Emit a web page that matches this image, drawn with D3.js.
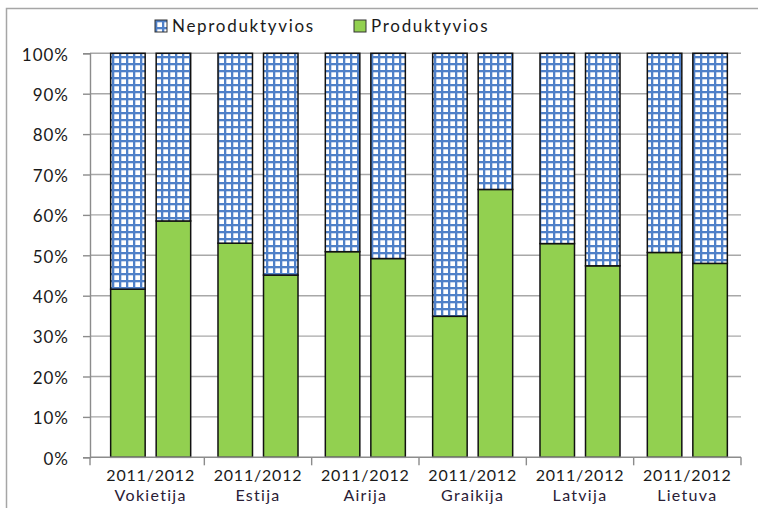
<!DOCTYPE html>
<html>
<head>
<meta charset="utf-8">
<script src="https://cdn.jsdelivr.net/npm/d3@7"></script>
<style>
  html, body { margin: 0; padding: 0; background: #fff; }
  svg { display: block; font-family: Lato, "Open Sans", sans-serif; }
</style>
</head>
<body>
<svg id="chart" width="758" height="508"></svg>
<script>
// Farm shares by country, two periods per country (percent)
const countries = ["Vokietija", "Estija", "Airija", "Graikija", "Latvija", "Lietuva"];
const periods = ["2011", "2012"];
const periodLabel = "2011/2012";
const seriesNames = ["Produktyvios", "Neproduktyvios"];

const produktyvios2011   = [41.6, 53.0, 50.9, 34.9, 52.9, 50.7];
const produktyvios2012   = [58.5, 45.1, 49.2, 66.3, 47.4, 48.0];
const neproduktyvios2011 = [58.4, 47.0, 49.1, 65.1, 47.1, 49.3];
const neproduktyvios2012 = [41.5, 54.9, 50.8, 33.7, 52.6, 52.0];

const yTickValues = [0, 10, 20, 30, 40, 50, 60, 70, 80, 90, 100];
const yTickFormat = d => d + "%";

// one row per bar
const rows = [];
countries.forEach((c, i) => {
  rows.push({ country: c, period: periods[0], Produktyvios: produktyvios2011[i], Neproduktyvios: neproduktyvios2011[i] });
  rows.push({ country: c, period: periods[1], Produktyvios: produktyvios2012[i], Neproduktyvios: neproduktyvios2012[i] });
});

const svg = d3.select("#chart");
const plot = { left: 90, right: 741, top: 53.3, bottom: 457.3, groupStart: 97 };

const green = "#92d050";
const blue = "#4f80c8";

// small-grid hatch for the non-productive share
const defs = svg.append("defs");
const pat = defs.append("pattern")
  .attr("id", "grid")
  .attr("patternUnits", "userSpaceOnUse")
  .attr("width", 7).attr("height", 7);
pat.append("rect").attr("width", 7).attr("height", 7).attr("fill", "#fff");
pat.append("rect").attr("x", 0).attr("y", 0).attr("width", 2.3).attr("height", 7).attr("fill", blue);
pat.append("rect").attr("x", 0).attr("y", 0).attr("width", 7).attr("height", 2.3).attr("fill", blue);

// chart frame
svg.append("rect")
  .attr("x", 6.5).attr("y", 8.5)
  .attr("width", 800).attr("height", 600)
  .attr("fill", "none").attr("stroke", "#a6a6a6").attr("stroke-width", 1.5);

const y = d3.scaleLinear().domain([0, 100]).range([plot.bottom, plot.top]);
const x0 = d3.scaleBand().domain(countries).range([plot.groupStart, plot.right]).padding(0);
const x1 = d3.scaleBand().domain(periods).range([0, x0.bandwidth()])
  .paddingInner(0.242).paddingOuter(0.3);

// horizontal gridlines
svg.append("g")
  .selectAll("line")
  .data(yTickValues.filter(d => d > 0))
  .join("line")
  .attr("x1", plot.left).attr("x2", plot.right)
  .attr("y1", d => y(d)).attr("y2", d => y(d))
  .attr("stroke", "#a8a8a8").attr("stroke-width", 1.4);

// y axis
const yAxis = svg.append("g")
  .attr("transform", `translate(${plot.left},0)`)
  .call(d3.axisLeft(y).tickValues(yTickValues).tickFormat(yTickFormat).tickSize(7).tickPadding(14));
yAxis.select(".domain").attr("stroke", "#8c8c8c").attr("stroke-width", 1.4);
yAxis.selectAll(".tick line").attr("stroke", "#8c8c8c").attr("stroke-width", 1.4);
yAxis.selectAll(".tick text")
  .attr("font-family", "Lato, sans-serif")
  .attr("font-size", 17)
  .attr("letter-spacing", "1px")
  .attr("fill", "#1a1a1a")
  .attr("dy", "0.4em");

// stacked bars (100%)
const stack = d3.stack().keys(seriesNames).offset(d3.stackOffsetExpand);
const layers = stack(rows);
const fills = { Produktyvios: green, Neproduktyvios: "url(#grid)" };

svg.append("g")
  .selectAll("g")
  .data(layers)
  .join("g")
  .attr("fill", d => fills[d.key])
  .selectAll("rect")
  .data(d => d)
  .join("rect")
  .attr("x", d => x0(d.data.country) + x1(d.data.period))
  .attr("width", x1.bandwidth())
  .attr("y", d => y(d[1] * 100))
  .attr("height", d => y(d[0] * 100) - y(d[1] * 100))
  .attr("stroke", "#111")
  .attr("stroke-width", 1.5);

// x axis line and group separators
const xAxis = svg.append("g");
xAxis.append("line")
  .attr("x1", plot.left).attr("x2", plot.right)
  .attr("y1", plot.bottom).attr("y2", plot.bottom)
  .attr("stroke", "#8c8c8c").attr("stroke-width", 1.4);
const sepX = [plot.left].concat(countries.map(c => x0(c) + x0.step()));
xAxis.selectAll("line.sep")
  .data(sepX)
  .join("line")
  .attr("class", "sep")
  .attr("x1", d => d).attr("x2", d => d)
  .attr("y1", plot.bottom).attr("y2", plot.bottom + 8)
  .attr("stroke", "#8c8c8c").attr("stroke-width", 1.4);

// category labels: period line and country line
const labels = xAxis.selectAll("g.lab")
  .data(countries)
  .join("g")
  .attr("class", "lab")
  .attr("transform", c => `translate(${x0(c) + x0.bandwidth() / 2},0)`);
labels.append("text")
  .attr("y", 480.5)
  .attr("text-anchor", "middle")
  .attr("font-size", 16)
  .attr("letter-spacing", "0.8px")
  .attr("fill", "#1a1a1a")
  .text(periodLabel);
labels.append("text")
  .attr("y", 500.5)
  .attr("text-anchor", "middle")
  .attr("font-size", 16)
  .attr("letter-spacing", "1.3px")
  .attr("fill", "#2a2036")
  .text(c => c);

// legend
const legendItems = [
  { name: "Neproduktyvios", fill: "url(#grid)", x: 155 },
  { name: "Produktyvios", fill: green, x: 354 }
];
const leg = svg.append("g")
  .selectAll("g")
  .data(legendItems)
  .join("g")
  .attr("transform", d => `translate(${d.x},20)`);
leg.append("rect")
  .attr("width", 12).attr("height", 12)
  .attr("fill", d => d.fill)
  .attr("stroke", "#333").attr("stroke-width", 1);
leg.append("text")
  .attr("x", 17).attr("y", 11.7)
  .attr("font-size", 17)
  .attr("letter-spacing", "1.7px")
  .attr("fill", "#1a1a1a")
  .text(d => d.name);
</script>
</body>
</html>
